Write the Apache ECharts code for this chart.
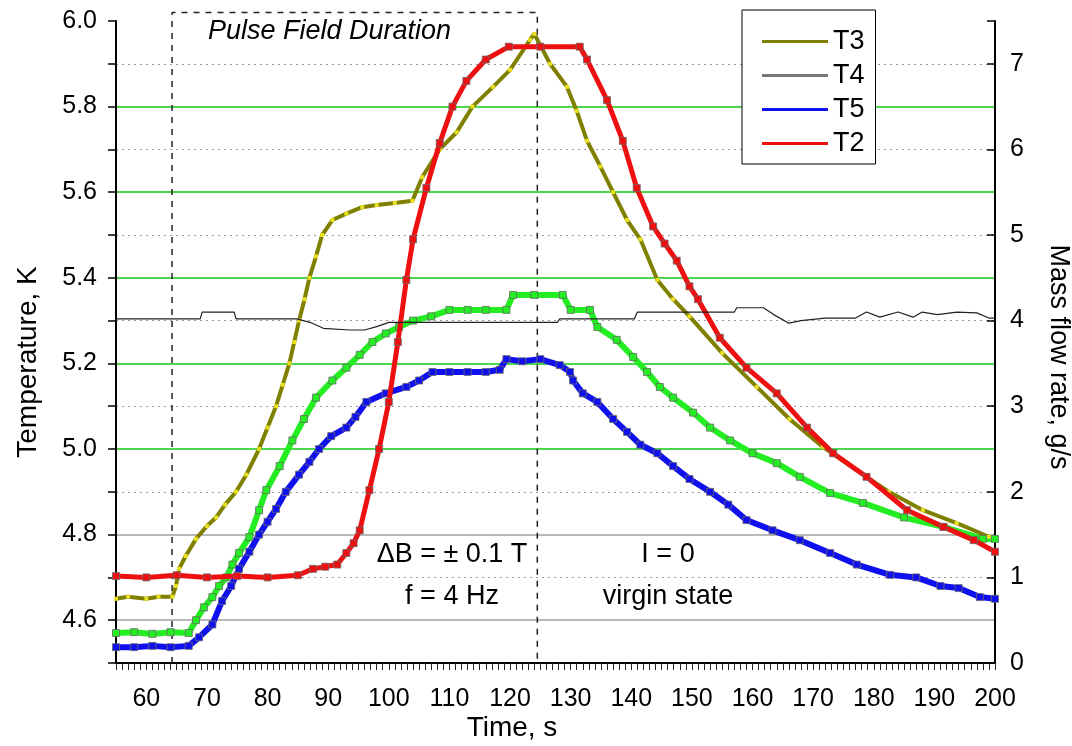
<!DOCTYPE html>
<html>
<head>
<meta charset="utf-8">
<script src="https://cdn.jsdelivr.net/npm/echarts@6/dist/echarts.min.js"></script>
<style>
  html, body { margin: 0; padding: 0; background: #fff; }
  #chart { width: 1072px; height: 746px; }
</style>
</head>
<body>
<div id="chart"></div>
<script>
// time, s
const t3Time = [55, 57, 60, 62, 64.3, 64.9, 65.4, 66.5, 68.2, 70, 71.5, 73, 74.8, 76.5, 78.6, 80, 81.4, 82.5, 83.6, 84.4, 85.2, 86.1, 86.9, 88, 89, 90.7, 93, 95.6, 98, 101, 103.9, 105.5, 108.4, 111.2, 113.8, 117.2, 120, 123.3, 124, 126.6, 129.4, 131, 132.7, 134.9, 137, 139.3, 141.5, 144.3, 146.9, 149.6, 155, 160.7, 166.1, 171.6, 177.2, 182.5, 188.1, 193.7, 199, 200];
const t3Temp = [4.65, 4.655, 4.65, 4.655, 4.655, 4.68, 4.72, 4.75, 4.79, 4.82, 4.84, 4.87, 4.90, 4.94, 5.0, 5.05, 5.10, 5.15, 5.20, 5.25, 5.30, 5.35, 5.40, 5.45, 5.50, 5.535, 5.55, 5.565, 5.57, 5.575, 5.58, 5.635, 5.70, 5.74, 5.80, 5.846, 5.886, 5.956, 5.97, 5.90, 5.846, 5.79, 5.72, 5.66, 5.60, 5.535, 5.49, 5.395, 5.35, 5.31, 5.224, 5.145, 5.07, 5.005, 4.95, 4.90, 4.857, 4.827, 4.795, 4.79];

const t4Time = [55, 58, 61, 64, 67, 68.2, 69.5, 70.9, 72, 73.2, 74.2, 75.3, 77, 78.6, 79.8, 82, 84.1, 86, 88, 90.7, 93, 95.2, 97.3, 99.5, 101.7, 104, 107, 110, 113, 116, 119.4, 120.5, 124, 128.7, 130, 133.2, 134.4, 137.6, 140.3, 142.6, 144.7, 146.9, 150.2, 153, 156.3, 160, 164, 167.8, 172.8, 178.2, 185, 191.5, 198, 200];
const t4Temp = [4.57, 4.572, 4.568, 4.572, 4.57, 4.60, 4.63, 4.654, 4.68, 4.70, 4.73, 4.757, 4.794, 4.857, 4.904, 4.96, 5.02, 5.07, 5.12, 5.16, 5.19, 5.22, 5.25, 5.27, 5.285, 5.30, 5.31, 5.325, 5.325, 5.325, 5.325, 5.36, 5.36, 5.36, 5.325, 5.325, 5.285, 5.255, 5.215, 5.18, 5.145, 5.12, 5.085, 5.05, 5.02, 4.99, 4.967, 4.935, 4.897, 4.874, 4.84, 4.818, 4.79, 4.79];

const t5Time = [55, 58, 61, 64, 67, 68.7, 70.9, 72.5, 74, 75.3, 77, 78.6, 80, 81.4, 83, 85.2, 86.9, 88.5, 90.5, 93, 94.5, 96.3, 99.5, 102.9, 105, 107.2, 110, 113, 116, 118.3, 119.4, 122, 125, 128.2, 129.9, 130.4, 132, 134.4, 137, 139.3, 141.5, 144.3, 146.9, 149.6, 153, 156, 159, 163.3, 167.8, 172.8, 177.2, 182.7, 187, 191, 194, 197.5, 200];
const t5Temp = [4.537, 4.537, 4.54, 4.537, 4.54, 4.56, 4.59, 4.645, 4.68, 4.72, 4.76, 4.80, 4.83, 4.86, 4.90, 4.94, 4.97, 5.0, 5.03, 5.05, 5.075, 5.11, 5.13, 5.145, 5.16, 5.18, 5.18, 5.18, 5.18, 5.185, 5.21, 5.205, 5.21, 5.196, 5.18, 5.16, 5.13, 5.11, 5.07, 5.04, 5.01, 4.99, 4.96, 4.93, 4.90, 4.87, 4.834, 4.81, 4.787, 4.757, 4.73, 4.706, 4.70, 4.68, 4.675, 4.654, 4.65];

const t2Time = [55, 60, 65, 70, 75, 80, 85, 87.5, 89.5, 91.5, 93, 94.2, 95.2, 96.8, 98.4, 100, 101.5, 102.9, 104, 106.2, 108.4, 110.5, 112.8, 116, 119.8, 125, 131.5, 132.7, 136, 138.6, 140.9, 143.6, 145.5, 147.5, 149.6, 151, 154.6, 159, 164, 169, 173.3, 178.8, 185.5, 191.5, 196.5, 200];
const t2Temp = [4.703, 4.70, 4.705, 4.70, 4.703, 4.70, 4.705, 4.72, 4.725, 4.73, 4.757, 4.78, 4.81, 4.904, 5.0, 5.11, 5.25, 5.395, 5.49, 5.61, 5.715, 5.80, 5.86, 5.91, 5.94, 5.94, 5.94, 5.91, 5.815, 5.72, 5.61, 5.52, 5.48, 5.44, 5.38, 5.35, 5.26, 5.19, 5.13, 5.05, 4.99, 4.935, 4.857, 4.818, 4.787, 4.76];

// mass flow rate, g/s (right axis)
const flowTime = [55, 60, 65, 68.9, 69.2, 74.5, 74.8, 80, 84.8, 87, 89.2, 93.6, 96, 98, 100, 103, 110, 120, 127.8, 128.2, 135, 140.5, 141, 150, 157, 157.4, 161.8, 163.5, 166, 168, 172, 177, 178.8, 181, 184, 186.5, 188, 190.5, 193.7, 197, 199, 200];
const flowRate = [4.02, 4.02, 4.02, 4.02, 4.1, 4.1, 4.02, 4.02, 4.02, 3.98, 3.91, 3.89, 3.89, 3.93, 3.98, 3.98, 3.98, 3.98, 3.98, 4.02, 4.02, 4.02, 4.1, 4.1, 4.1, 4.15, 4.15, 4.07, 3.97, 4.0, 4.03, 4.03, 4.1, 4.04, 4.1, 4.04, 4.1, 4.07, 4.1, 4.09, 4.03, 4.03];

// pulse field window
const pulseStart = 64.25;
const pulseEnd = 124.5;
const boxTop = 6.02;

const xTickLabels = [60, 70, 80, 90, 100, 110, 120, 130, 140, 150, 160, 170, 180, 190, 200];
const tempLabels = [4.6, 4.8, 5.0, 5.2, 5.4, 5.6, 5.8, 6.0];
const flowLabels = [0, 1, 2, 3, 4, 5, 6, 7];

const zip = (a, b) => a.map((v, i) => [v, b[i]]);
const font = 'Liberation Sans, Arial, sans-serif';

const GRAY = '#b8b8b8';
const GREEN = '#4fd64f';
// split line colors for left axis ticks 4.5, 4.6, ... 6.0
const leftSplitColors = [];
for (let i = 0; i <= 15; i++) {
  const v = 45 + i;
  let c = 'transparent';
  if (v % 2 === 0 && v < 60) c = v < 50 ? GRAY : GREEN;
  leftSplitColors.push(c);
}
// right axis split lines at 0..7 and 7.5
const rightSplitColors = ['transparent', '#999', '#999', '#999', '#999', '#999', '#999', '#999', 'transparent'];

const myChart = echarts.init(document.getElementById('chart'));

myChart.setOption({
  animation: false,
  backgroundColor: '#fff',
  textStyle: { fontFamily: font },
  grid: { left: 116, right: 77, top: 21, bottom: 83, containLabel: false },
  legend: {
    left: 742, top: 10,
    orient: 'vertical',
    padding: [18, 11, 7, 20],
    itemWidth: 66, itemHeight: 3, itemGap: 7,
    icon: 'rect',
    borderColor: '#000', borderWidth: 1,
    backgroundColor: '#fff',
    textStyle: { fontSize: 27, color: '#000', fontFamily: font },
    data: [
      { name: 'T3', itemStyle: { color: '#808000', borderWidth: 0 } },
      { name: 'T4', itemStyle: { color: '#777', borderWidth: 0 } },
      { name: 'T5', itemStyle: { color: '#1010ee', borderWidth: 0 } },
      { name: 'T2', itemStyle: { color: '#ee1010', borderWidth: 0 } },
    ],
  },
  xAxis: {
    type: 'value',
    min: 55, max: 200, interval: 1,
    axisLine: { lineStyle: { color: '#000', width: 2 } },
    axisTick: { length: 7, lineStyle: { color: '#222', width: 1 } },
    splitLine: { show: false },
    axisLabel: {
      margin: 24, fontSize: 25, color: '#000', fontFamily: font,
      formatter: (v) => (xTickLabels.indexOf(Math.round(v)) >= 0 && Math.abs(v - Math.round(v)) < 1e-6 ? String(Math.round(v)) : ''),
    },
  },
  yAxis: [
    {
      type: 'value',
      min: 4.5, max: 6.0, interval: 0.1,
      position: 'left',
      axisLine: { show: true, lineStyle: { color: '#000', width: 2 } },
      axisTick: { length: 8, lineStyle: { color: '#000', width: 1.5 } },
      splitLine: { show: true, lineStyle: { color: leftSplitColors, width: 2 } },
      axisLabel: {
        margin: 19, fontSize: 25, color: '#000', fontFamily: font,
        formatter: (v) => {
          const r = Math.round(v * 10) / 10;
          return tempLabels.some((l) => Math.abs(l - r) < 1e-6) ? r.toFixed(1) : '';
        },
      },
    },
    {
      type: 'value',
      min: 0, max: 7.5, interval: 1,
      position: 'right',
      axisLine: { show: true, lineStyle: { color: '#000', width: 2 } },
      axisTick: { inside: true, length: 8, lineStyle: { color: '#000', width: 1.5 } },
      splitLine: { show: true, lineStyle: { color: rightSplitColors, width: 1, type: [2, 4] } },
      axisLabel: {
        margin: 15, fontSize: 25, color: '#000', fontFamily: font,
        formatter: (v) => (flowLabels.indexOf(v) >= 0 ? String(v) : ''),
      },
    },
  ],
  graphic: [
    { type: 'text', left: 208, top: 18, style: { text: 'Pulse Field Duration', font: 'italic 27px ' + font, fill: '#000' } },
    { type: 'text', x: 452, y: 555, style: { text: '\u0394B = \u00b1 0.1 T', font: '27px ' + font, fill: '#000', align: 'center', verticalAlign: 'middle' } },
    { type: 'text', x: 452, y: 597, style: { text: 'f = 4 Hz', font: '27px ' + font, fill: '#000', align: 'center', verticalAlign: 'middle' } },
    { type: 'text', x: 668, y: 555, style: { text: 'I = 0', font: '27px ' + font, fill: '#000', align: 'center', verticalAlign: 'middle' } },
    { type: 'text', x: 668, y: 597, style: { text: 'virgin state', font: '27px ' + font, fill: '#000', align: 'center', verticalAlign: 'middle' } },
    { type: 'text', x: 512, y: 728, style: { text: 'Time, s', font: '28px ' + font, fill: '#000', align: 'center', verticalAlign: 'middle' } },
    { type: 'text', x: 28, y: 362, rotation: Math.PI / 2, style: { text: 'Temperature, K', font: '28px ' + font, fill: '#000', align: 'center', verticalAlign: 'middle' } },
    { type: 'text', x: 1058, y: 357, rotation: -Math.PI / 2, style: { text: 'Mass flow rate, g/s', font: '27px ' + font, fill: '#000', align: 'center', verticalAlign: 'middle' } },
  ],
  series: [
    {
      name: 'Pulse',
      type: 'line',
      data: [[pulseStart, 4.5], [pulseStart, boxTop], [pulseEnd, boxTop], [pulseEnd, 4.5]],
      clip: false,
      showSymbol: false,
      silent: true,
      lineStyle: { color: '#222', width: 1.5, type: [6, 6] },
      z: 1,
    },
    {
      name: 'T3',
      type: 'line',
      data: zip(t3Time, t3Temp),
      showSymbol: true, symbol: 'rect', symbolSize: 4,
      itemStyle: { color: '#e8e020' },
      lineStyle: { color: '#808000', width: 4 },
      z: 3,
    },
    {
      name: 'T4',
      type: 'line',
      data: zip(t4Time, t4Temp),
      showSymbol: true, symbol: 'rect', symbolSize: 7,
      itemStyle: { color: '#22ee22', borderColor: '#6a6a6a', borderWidth: 0.8 },
      lineStyle: { color: '#22ee22', width: 6 },
      z: 3,
    },
    {
      name: 'T5',
      type: 'line',
      data: zip(t5Time, t5Temp),
      showSymbol: true, symbol: 'rect', symbolSize: 7,
      itemStyle: { color: '#1010ee', borderColor: '#6a6a6a', borderWidth: 0.8 },
      lineStyle: { color: '#1010ee', width: 6 },
      z: 3,
    },
    {
      name: 'T2',
      type: 'line',
      data: zip(t2Time, t2Temp),
      showSymbol: true, symbol: 'rect', symbolSize: 7,
      itemStyle: { color: '#ee1010', borderColor: '#6a6a6a', borderWidth: 0.8 },
      lineStyle: { color: '#ee1010', width: 5 },
      z: 4,
    },
    {
      name: 'Mass flow',
      type: 'line',
      yAxisIndex: 1,
      data: zip(flowTime, flowRate),
      showSymbol: false,
      lineStyle: { color: '#222', width: 1.2 },
      z: 5,
    },
  ],
});
</script>
</body>
</html>
